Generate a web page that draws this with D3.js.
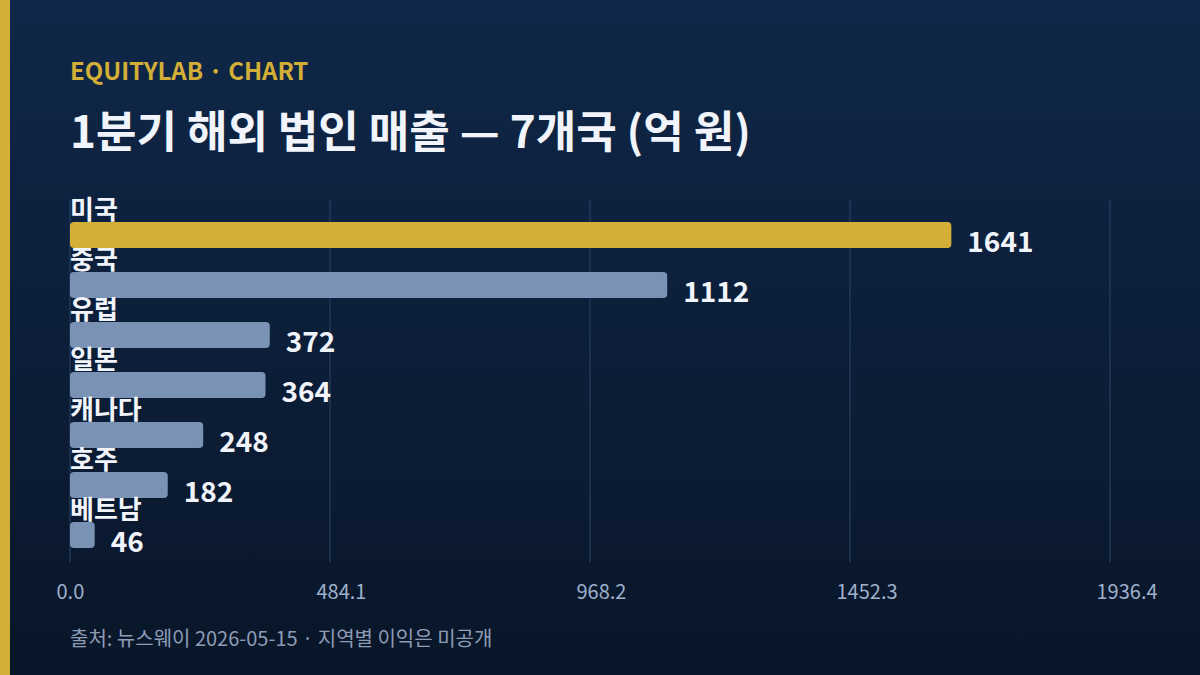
<!DOCTYPE html>
<html>
<head>
<meta charset="utf-8">
<script src="https://cdn.jsdelivr.net/npm/d3@7/dist/d3.min.js"></script>
<style>
html,body{margin:0;padding:0;background:#0b1a33;}
svg{display:block;}
text{font-family:"Noto Sans CJK KR","Noto Sans",sans-serif;}
</style>
</head>
<body>
<svg id="chart" width="1200" height="675"></svg>
<script>
const categories = ["미국","중국","유럽","일본","캐나다","호주","베트남"];
const values = [1641,1112,372,364,248,182,46];
const tickValues = [0,484.1,968.2,1452.3,1936.4];
const tickLabels = ["0.0","484.1","968.2","1452.3","1936.4"];
const brand = "EQUITYLAB · CHART";
const title = "1분기 해외 법인 매출 — 7개국 (억 원)";
const footer = "출처: 뉴스웨이 2026-05-15 · 지역별 이익은 미공개";

const svg = d3.select("#chart");
const W = 1200, H = 675;
const defs = svg.append("defs");
const grad = defs.append("linearGradient").attr("id","bg").attr("x1","0").attr("y1","0").attr("x2","0").attr("y2","1");
grad.append("stop").attr("offset","0%").attr("stop-color","#0f2748");
grad.append("stop").attr("offset","100%").attr("stop-color","#091629");
svg.append("rect").attr("width",W).attr("height",H).attr("fill","url(#bg)");
svg.append("rect").attr("x",0).attr("y",0).attr("width",10).attr("height",H).attr("fill","#d4af37");

svg.append("text").attr("x",70).attr("y",80).attr("fill","#d4af37")
  .attr("font-size",24).attr("font-weight",700).text(brand);
svg.append("text").attr("x",70).attr("y",148).attr("fill","#f1f4fa")
  .attr("font-size",44).attr("font-weight",700).text(title);

const x = d3.scaleLinear().domain([0,1936.4]).range([70,1110]);
const y = d3.scaleBand().domain(categories).range([198,572]).padding(0.48);

const grid = svg.append("g");
grid.selectAll("line").data(tickValues).join("line")
  .attr("x1",d=>x(d)).attr("x2",d=>x(d)).attr("y1",200).attr("y2",563)
  .attr("stroke","#2c4466").attr("stroke-width",1);

const axis = d3.axisBottom(x).tickValues(tickValues).tickFormat((d,i)=>tickLabels[i]).tickSize(0).tickPadding(0);
const ax = svg.append("g").attr("transform","translate(0,599)").call(axis);
ax.select(".domain").remove();
ax.selectAll("text").attr("fill","#9fb0cc").attr("font-size",20).attr("dy",0)
  .attr("text-anchor","start").attr("x",-14)
  .style("font-family","'Noto Sans CJK KR','Noto Sans',sans-serif");

const rows = svg.append("g").selectAll("g").data(categories).join("g");
rows.append("rect")
  .attr("x",x(0)).attr("y",d=>y(d))
  .attr("width",(d,i)=>x(values[i])-x(0)).attr("height",y.bandwidth())
  .attr("rx",4).attr("fill",(d,i)=>i===0?"#d4af37":"#7a93b5");
rows.append("text")
  .attr("x",70).attr("y",d=>y(d)-3)
  .attr("fill","#f1f4fa").attr("font-size",26).attr("font-weight",700).text(d=>d);
rows.append("text")
  .attr("x",(d,i)=>x(values[i])+16).attr("y",d=>y(d)+y.bandwidth()/2+17)
  .attr("fill","#f1f4fa").attr("font-size",28).attr("font-weight",700).text((d,i)=>values[i]);

svg.append("text").attr("x",70).attr("y",646).attr("fill","#8e9cb6")
  .attr("font-size",20).text(footer);
</script>
</body>
</html>
